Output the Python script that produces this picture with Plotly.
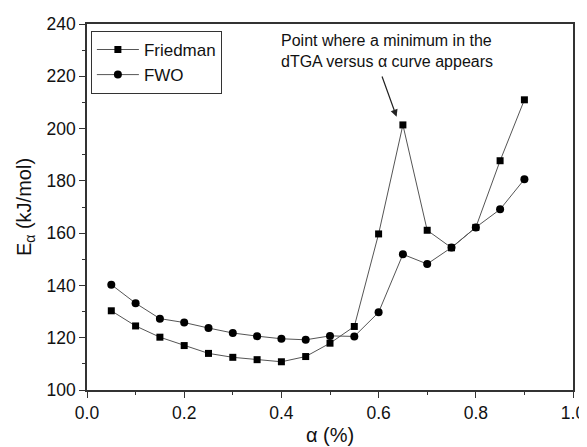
import plotly.graph_objects as go

alpha = [0.05, 0.10, 0.15, 0.20, 0.25, 0.30, 0.35, 0.40, 0.45, 0.50,
         0.55, 0.60, 0.65, 0.70, 0.75, 0.80, 0.85, 0.90]
friedman = [130.3, 124.5, 120.2, 117.0, 114.0, 112.5, 111.6, 110.8, 112.8, 117.9,
            124.3, 159.7, 201.4, 161.1, 154.4, 162.2, 187.7, 211.0]
fwo = [140.3, 133.2, 127.3, 125.8, 123.7, 121.8, 120.6, 119.6, 119.2, 120.7,
       120.5, 129.7, 151.9, 148.2, 154.5, 162.2, 169.1, 180.6]

FONT = "Liberation Sans, Arial, sans-serif"

fig = go.Figure()
fig.add_trace(go.Scatter(
    x=alpha, y=friedman, name="Friedman", mode="lines+markers",
    line=dict(color="#555555", width=1),
    marker=dict(symbol="square", size=7, color="black"),
))
fig.add_trace(go.Scatter(
    x=alpha, y=fwo, name="FWO", mode="lines+markers",
    line=dict(color="#555555", width=1),
    marker=dict(symbol="circle", size=8, color="black"),
))

fig.add_annotation(
    x=0.637, y=204.5, ax=0.606, ay=220.5, xref="x", yref="y", axref="x", ayref="y",
    text="", showarrow=True, arrowhead=2, arrowsize=1.2, arrowwidth=1.2, arrowcolor="#222222",
)
fig.add_annotation(
    x=0.396, y=229.5, xref="x", yref="y", xanchor="left", yanchor="middle",
    text="Point where a minimum in the<br>dTGA versus α curve appears",
    showarrow=False, align="left", font=dict(family=FONT, size=16, color="#111111"),
)

axis_common = dict(
    showline=True, linecolor="#333333", linewidth=1.5, mirror=True,
    ticks="outside", ticklen=6, tickwidth=1.2, tickcolor="#333333",
    showgrid=False, zeroline=False, automargin=False,
    tickfont=dict(family=FONT, size=17.5, color="#111111"),
)

fig.update_xaxes(
    range=[0, 1.0], dtick=0.2, tick0=0, tickformat=".1f",
    title=dict(text="α (%)", font=dict(family=FONT, size=20, color="#111111"), standoff=6),
    minor=dict(ticks="outside", ticklen=3, dtick=0.1, tickcolor="#333333", tickwidth=1.2),
    **axis_common,
)
fig.update_yaxes(
    range=[100, 240], dtick=20, tick0=100,
    title=dict(text="E<sub>α</sub> (kJ/mol)", font=dict(family=FONT, size=20, color="#111111"), standoff=10),
    minor=dict(ticks="outside", ticklen=3, dtick=10, tickcolor="#333333", tickwidth=1.2),
    **axis_common,
)

# the page body adds an 8px offset, so margins are shifted to compensate
fig.update_layout(
    width=587, height=447,
    margin=dict(l=79, r=22, t=16, b=65),
    paper_bgcolor="white", plot_bgcolor="white",
    font=dict(family=FONT, color="#111111"),
    legend=dict(
        x=0.008, y=0.981, xanchor="left", yanchor="top",
        bordercolor="#333333", borderwidth=1, bgcolor="white",
        font=dict(family=FONT, size=17, color="#111111"),
        tracegroupgap=0, itemwidth=42,
    ),
)

fig.write_html("out.html")
